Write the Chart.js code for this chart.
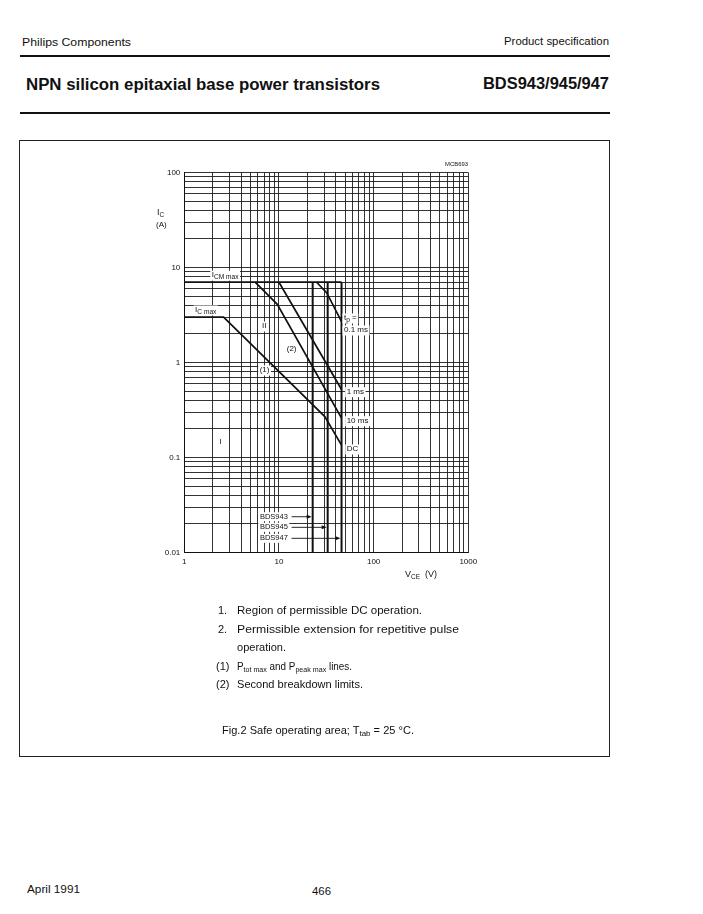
<!DOCTYPE html>
<html><head><meta charset="utf-8">
<script src="https://cdn.jsdelivr.net/npm/chart.js@4.4.1/dist/chart.umd.min.js"></script>
<style>
html,body{margin:0;padding:0;background:#fff;}
body{width:703px;height:914px;position:relative;overflow:hidden;font-family:"Liberation Sans",Arial,sans-serif;color:#111;}
.t{position:absolute;white-space:nowrap;line-height:1;transform-origin:0 50%;}
.rule{position:absolute;background:#111;}
#box{position:absolute;left:19px;top:140px;width:591px;height:617px;border:1px solid #222;box-sizing:border-box;}
#wrap{position:absolute;left:130px;top:150px;width:370px;height:430px;}
.s{font-size:72%;position:relative;top:0.28em;}
</style></head>
<body>
<div class="t" data-w="109" style="left:22px;top:37px;font-size:11px;">Philips Components</div>
<div class="t" data-w="105" style="left:504px;top:36px;font-size:11px;">Product specification</div>
<div class="rule" style="left:20px;top:55px;width:590px;height:2px;"></div>
<div class="t" data-w="354" style="left:26px;top:77px;font-size:16px;font-weight:bold;">NPN silicon epitaxial base power transistors</div>
<div class="t" data-w="126" style="left:483px;top:76px;font-size:16px;font-weight:bold;">BDS943/945/947</div>
<div class="rule" style="left:20px;top:112px;width:590px;height:2px;"></div>
<div id="box"></div>

<div id="wrap"><canvas id="c" width="370" height="430"></canvas></div>

<div class="t" data-w="23" style="left:445px;top:162px;font-size:5.5px;">MCB693</div>
<div class="t" style="left:157px;top:208px;font-size:9px;">I<span class="s">C</span></div>
<div class="t" style="left:156px;top:221px;font-size:8px;">(A)</div>
<div class="t" style="left:405px;top:570px;font-size:9px;">V<span class="s">CE</span>&nbsp;&nbsp;(V)</div>

<div class="t" style="left:218px;top:605px;font-size:11px;">1.</div>
<div class="t" data-w="185" style="left:237px;top:605px;font-size:11px;">Region of permissible DC operation.</div>
<div class="t" style="left:218px;top:624px;font-size:11px;">2.</div>
<div class="t" data-w="222" style="left:237px;top:624px;font-size:11px;">Permissible extension for repetitive pulse</div>
<div class="t" data-w="49" style="left:237px;top:642px;font-size:11px;">operation.</div>
<div class="t" style="left:216px;top:661px;font-size:11px;">(1)</div>
<div class="t" data-w="115" style="left:237px;top:661px;font-size:11px;">P<span class="s">tot max</span> and P<span class="s">peak max</span> lines.</div>
<div class="t" style="left:216px;top:679px;font-size:11px;">(2)</div>
<div class="t" data-w="126" style="left:237px;top:679px;font-size:11px;">Second breakdown limits.</div>
<div class="t" data-w="192" style="left:222px;top:725px;font-size:11px;">Fig.2 Safe operating area; T<span class="s">tab</span> = 25 °C.</div>

<div class="t" data-w="53" style="left:27px;top:884px;font-size:11px;">April 1991</div>
<div class="t" data-w="19" style="left:312px;top:886px;font-size:11px;">466</div>

<script>
// ---- tick / grid values ----
const gridV = [1,2,3,4,5,6,7,8,9,10,20,30,40,50,60,70,80,90,100,200,300,400,500,600,700,800,900,1000];
const gridA = [0.01,0.02,0.03,0.04,0.05,0.06,0.07,0.08,0.09,0.1,0.2,0.3,0.4,0.5,0.6,0.7,0.8,0.9,1,2,3,4,5,6,7,8,9,10,20,30,40,50,60,70,80,90,100];
const xLabelValues = [1,10,100,1000];
const xLabels = ['1','10','100','1000'];
const yLabelValues = [0.01,0.1,1,10,100];
const yLabels = ['0.01','0.1','1','10','100'];

// ---- curves (VCE in V, IC in A) ----
const icmMaxV = [1, 45.8];
const icmMaxA = [7, 7];
const dcV = [1, 2.6, 30.5, 45.8];
const dcA = [3, 3, 0.27, 0.135];
const p10msV = [5.6, 9.6, 45.8];
const p10msA = [7, 4.1, 0.26];
const p1msV = [10, 45.8];
const p1msA = [7, 0.52];
const p01msV = [25, 32, 45.8];
const p01msA = [7, 5.4, 2.7];
// VCEO limits of BDS943 / BDS945 / BDS947
const types = ['BDS943','BDS945','BDS947'];
const vceoV = [22.7, 32.7, 45.8];
const limitA = [7, 0.01];
const arrowA = [0.0238, 0.0184, 0.0141];
const arrowFromV = 13.6;
const typeLabelV = 12.4;

function pts(xs, ys){ return xs.map((x,i)=>({x:x, y:ys[i]})); }

const heavy = {borderColor:'#111', borderWidth:1.7, pointRadius:0, showLine:true, fill:false, tension:0};
const datasets = [
  Object.assign({data: pts(icmMaxV, icmMaxA)}, heavy),
  Object.assign({data: pts(dcV, dcA)}, heavy),
  Object.assign({data: pts(p10msV, p10msA)}, heavy),
  Object.assign({data: pts(p1msV, p1msA)}, heavy),
  Object.assign({data: pts(p01msV, p01msA)}, heavy)
];
vceoV.forEach(v => datasets.push(Object.assign({data: pts([v, v], limitA)}, heavy, {borderWidth:2})));

// ---- annotations: [x value, y value, text parts, align] ----
const notes = [
  [1.95, 8.3, [['I',0],['CM max',1]], 'left'],
  [1.30, 3.57, [['I',0],['C max',1]], 'left'],
  [48.6, 2.94, [['t',0],['p',1],[' =',0]], 'left'],
  [48.6, 2.2, [['0.1 ms',0]], 'left'],
  [51.9, 0.493, [['1 ms',0]], 'left'],
  [51.9, 0.244, [['10 ms',0]], 'left'],
  [52.0, 0.123, [['DC',0]], 'left'],
  [7.05, 0.834, [['(1)',0]], 'center'],
  [13.6, 1.41, [['(2)',0]], 'center'],
  [7.0, 2.42, [['II',0]], 'center'],
  [2.42, 0.147, [['I',0]], 'center']
];

const annoPlugin = {
  id: 'anno',
  afterDatasetsDraw(chart){
    const c = chart.ctx, xs = chart.scales.x, ys = chart.scales.y;
    c.save();
    const F = 8, FS = 6.6;
    notes.forEach(n => {
      let w = 0;
      n[2].forEach(p => { c.font = (p[1]?FS:F)+'px "Liberation Sans", Arial'; w += c.measureText(p[0]).width; });
      const px = xs.getPixelForValue(n[0]);
      const py = ys.getPixelForValue(n[1]);
      let x0 = n[3]==='center' ? px - w/2 : px;
      c.fillStyle = '#fff';
      c.fillRect(x0-1.5, py-4.5, w+3, 10);
      c.fillStyle = '#111';
      c.textBaseline = 'middle';
      c.textAlign = 'left';
      n[2].forEach(p => {
        c.font = (p[1]?FS:F)+'px "Liberation Sans", Arial';
        c.fillText(p[0], x0, p[1] ? py+2 : py);
        x0 += c.measureText(p[0]).width;
      });
    });
    // type labels and arrows
    c.font = '7.5px "Liberation Sans", Arial';
    types.forEach((t,i) => {
      const y = ys.getPixelForValue(arrowA[i]);
      const xl = xs.getPixelForValue(typeLabelV);
      const xa = xs.getPixelForValue(arrowFromV);
      const xe = xs.getPixelForValue(vceoV[i]) - 1;
      const w = c.measureText(t).width;
      c.fillStyle = '#fff';
      c.fillRect(xl-w-1.5, y-4.5, w+3, 9);
      c.fillStyle = '#111';
      c.textAlign = 'right';
      c.textBaseline = 'middle';
      c.fillText(t, xl, y);
      c.strokeStyle = '#111';
      c.lineWidth = 0.9;
      c.beginPath(); c.moveTo(xa, y); c.lineTo(xe-4, y); c.stroke();
      c.beginPath(); c.moveTo(xe, y); c.lineTo(xe-5, y-2); c.lineTo(xe-5, y+2); c.closePath(); c.fill();
    });
    c.restore();
  }
};

const tickFont = {family:'"Liberation Sans", Arial', size:8};
new Chart(document.getElementById('c'), {
  type: 'scatter',
  data: {datasets: datasets},
  options: {
    responsive: false,
    animation: false,
    events: [],
    layout: {padding: {top: 22.5, right: 31.7, left: 0, bottom: 0}},
    plugins: {legend: {display: false}, tooltip: {enabled: false}},
    scales: {
      x: {
        type: 'logarithmic', min: 1, max: 1000,
        afterBuildTicks: s => { s.ticks = gridV.map(v => ({value: v})); },
        afterFit: s => { s.height = 27.5; },
        ticks: {autoSkip: false, maxRotation: 0, minRotation: 0, padding: 4, font: tickFont, color: '#111',
          callback: v => { const i = xLabelValues.indexOf(v); return i >= 0 ? xLabels[i] : ''; }},
        grid: {color: '#1c1c1c', lineWidth: 0.9, drawTicks: false},
        border: {color: '#111', width: 1}
      },
      y: {
        type: 'logarithmic', min: 0.01, max: 100,
        afterBuildTicks: s => { s.ticks = gridA.map(v => ({value: v})); },
        afterFit: s => { s.width = 54.3; },
        ticks: {autoSkip: false, padding: 4, font: tickFont, color: '#111',
          callback: v => { const i = yLabelValues.indexOf(v); return i >= 0 ? yLabels[i] : ''; }},
        grid: {color: '#1c1c1c', lineWidth: 0.9, drawTicks: false},
        border: {color: '#111', width: 1}
      }
    }
  },
  plugins: [annoPlugin]
});

// fit text widths to the reference
document.querySelectorAll('[data-w]').forEach(el => {
  const w = el.getBoundingClientRect().width;
  const target = parseFloat(el.getAttribute('data-w'));
  if (w > 0) el.style.transform = 'scaleX(' + (target / w) + ')';
});
</script>
</body></html>
